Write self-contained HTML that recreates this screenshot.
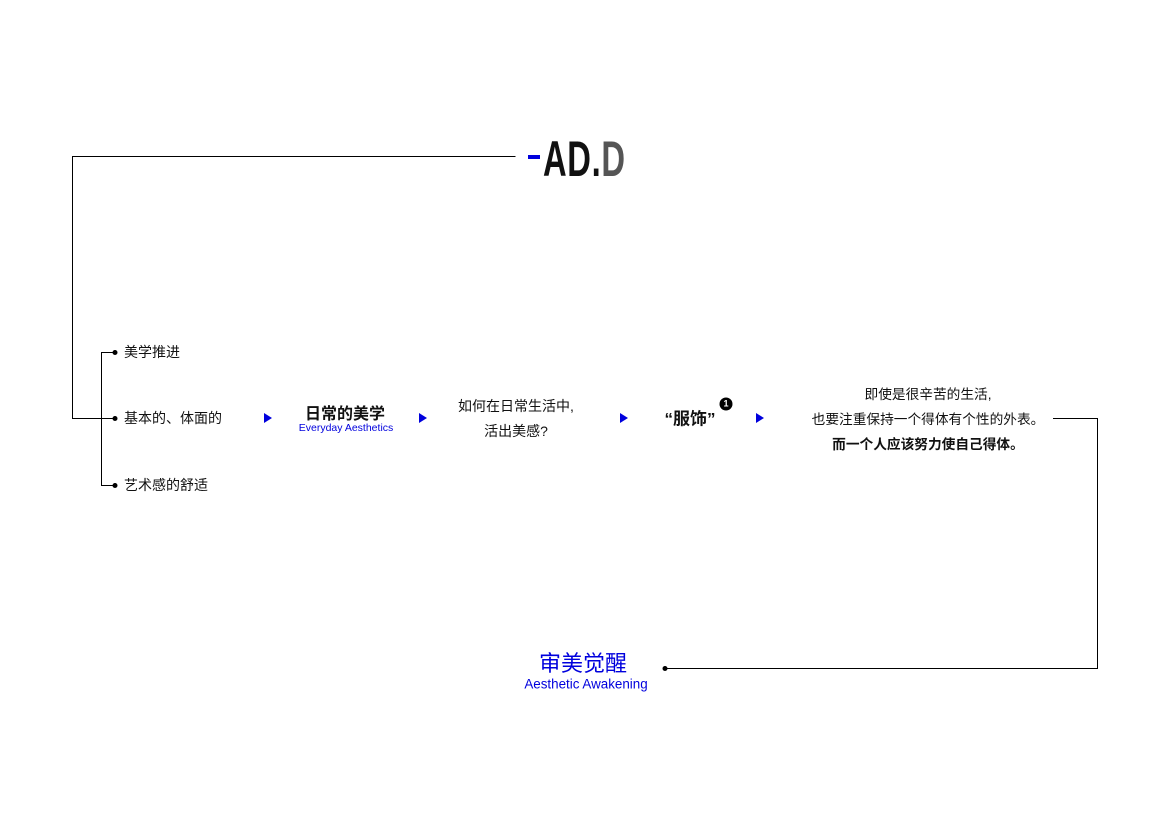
<!DOCTYPE html>
<html><head><meta charset="utf-8"><style>
body{margin:0;width:1169px;height:827px;background:#fff;position:relative;overflow:hidden;font-family:"Liberation Sans","Noto Sans CJK SC",sans-serif;color:#111}
.t{position:absolute;white-space:nowrap;transform:translate(-50%,-50%)}
.l{position:absolute;white-space:nowrap;transform:translateY(-50%);font-size:14px}
.tri{position:absolute;width:0;height:0;border-top:5px solid transparent;border-bottom:5px solid transparent;border-left:8px solid #0000dd;transform:translate(-50%,-50%)}
</style></head><body>
<svg width="1169" height="827" style="position:absolute;left:0;top:0">
<g stroke="#000" stroke-width="1" fill="none">
<path d="M515.5 156.5H72.5V418.5H115"/>
<path d="M115 352.5H101.5V485.5H115"/>
<path d="M1053 418.5H1097.5V668.5H665"/>
</g>
<g fill="#000"><circle cx="115" cy="352.5" r="2.5"/><circle cx="115" cy="418.5" r="2.5"/><circle cx="115" cy="485.5" r="2.5"/><circle cx="665" cy="668.5" r="2.5"/></g>
<rect x="528" y="155" width="12" height="4" fill="#0000dd"/>
</svg>
<div style="position:absolute;left:543px;top:134px;font-size:50px;font-weight:bold;line-height:50px;transform:scaleX(0.655);transform-origin:0 0;letter-spacing:1px">AD.<span style="color:#555">D</span></div>
<div class="l" style="left:124px;top:352px">美学推进</div>
<div class="l" style="left:124px;top:418px">基本的、体面的</div>
<div class="l" style="left:124px;top:485px">艺术感的舒适</div>
<div class="tri" style="left:268px;top:418px"></div>
<div class="tri" style="left:423px;top:418px"></div>
<div class="tri" style="left:624px;top:418px"></div>
<div class="tri" style="left:760px;top:418px"></div>
<div class="t" style="left:345px;top:412px;font-size:16px;font-weight:bold">日常的美学</div>
<div class="t" style="left:346px;top:428px;font-size:10.5px;color:#0000dd">Everyday Aesthetics</div>
<div class="t" style="left:516px;top:406px;font-size:14px">如何在日常生活中,</div>
<div class="t" style="left:516px;top:431px;font-size:14px">活出美感?</div>
<div class="t" style="left:690px;top:417px;font-size:17px;font-weight:bold">“服饰”</div>
<div class="t" style="left:726px;top:404px;width:13px;height:13px;border-radius:50%;background:#000;color:#fff;font-size:9px;font-weight:bold;text-align:center;line-height:13px">1</div>
<div class="t" style="left:928px;top:393px;font-size:13.7px">即使是很辛苦的生活,</div>
<div class="t" style="left:928px;top:418px;font-size:13.7px">也要注重保持一个得体有个性的外表。</div>
<div class="t" style="left:928px;top:443px;font-size:13.7px;font-weight:bold">而一个人应该努力使自己得体。</div>
<div class="t" style="left:583px;top:662px;font-size:22px;color:#0000dd">审美觉醒</div>
<div class="t" style="left:586px;top:684px;font-size:13.4px;color:#0000dd">Aesthetic Awakening</div>
</body></html>
